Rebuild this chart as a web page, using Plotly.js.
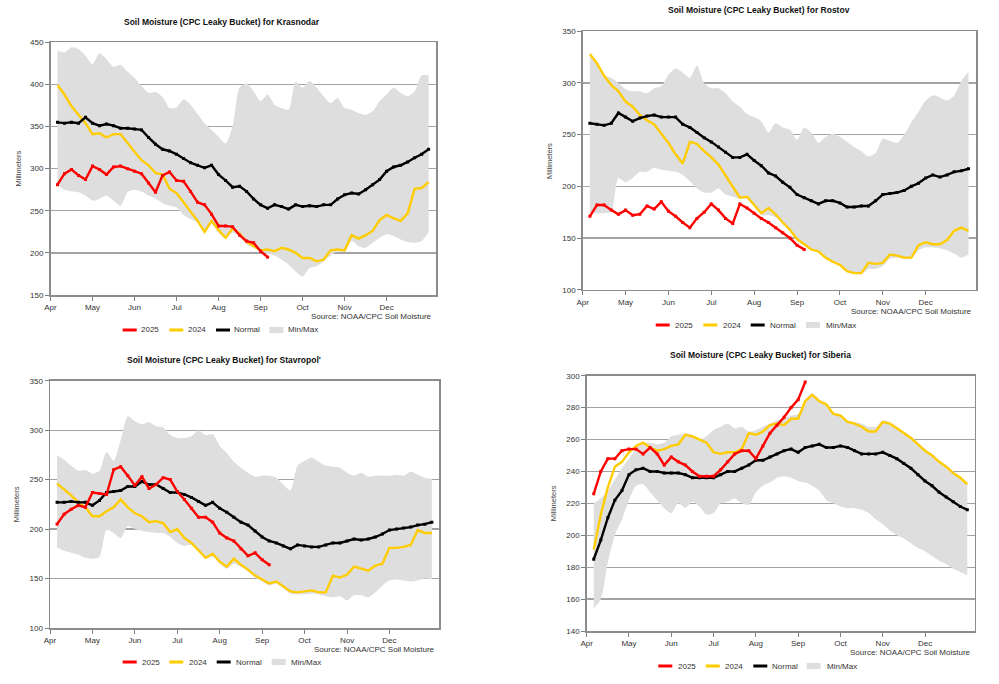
<!DOCTYPE html>
<html><head><meta charset="utf-8">
<script src="https://cdn.plot.ly/plotly-3.0.1.min.js"></script>
<style>html,body{margin:0;padding:0;background:#fff;}#chart{width:999px;height:684px;}</style>
</head><body><div id="chart"></div>
<script>
// x positions: pentad number from April 1 (6 per month)
const pentads = Array.from({length: 54}, (_, i) => i + 1);
const monthTicks = [0, 6, 12, 18, 24, 30, 36, 42, 48];
const monthLabels = ['Apr','May','Jun','Jul','Aug','Sep','Oct','Nov','Dec'];
const seriesNames = ['2025', '2024', 'Normal', 'Min/Max'];

// Krasnodar
const krasnodar2025 = [281,294,299,292,287,303,299,293,302,303,300,297,294,283,272,292,296,286,285,273,260,257,246,232,232,231,221,214,212,202,195];
const krasnodar2024 = [399,388,374,364,354,341,342,337,341,341,330,320,310,304,295,293,276,271,260,249,238,225,238,227,218,229,223,213,208,203,204,202,206,204,200,194,194,190,192,203,204,203,221,217,221,226,239,245,241,238,247,276,277,284];
const krasnodarNormal = [355,354,355,354,361,354,351,353,351,348,348,347,346,337,329,323,321,317,312,307,304,301,304,293,286,278,279,273,264,257,253,257,255,252,257,255,256,255,257,257,264,269,271,270,275,281,287,297,302,304,308,313,317,323];
const krasnodarMax = [440,438,444,442,434,424,437,430,421,423,415,408,398,390,391,385,372,373,382,376,365,354,346,338,330,350,396,401,392,380,388,376,372,370,403,396,404,396,386,378,384,372,370,366,364,368,380,388,396,390,386,392,411,411];
const krasnodarMin = [281,275,273,272,268,262,264,268,262,256,272,275,273,268,265,259,256,254,245,240,236,224,234,224,217,224,220,210,206,202,199,197,192,186,178,172,182,184,190,197,202,201,214,208,206,212,218,222,220,216,213,212,214,225];

// Rostov
const rostov2025 = [171,182,182,177,173,177,172,173,181,178,185,176,171,165,160,169,175,183,177,169,164,183,179,174,169,165,160,155,150,143,139];
const rostov2024 = [328,319,307,298,292,282,277,269,264,260,251,242,231,222,243,241,234,228,221,210,199,189,190,182,174,179,173,165,158,149,144,139,137,131,127,124,118,116,116,126,125,126,134,133,131,131,143,146,144,144,148,157,160,157];
const rostovNormal = [261,260,259,261,271,267,263,266,268,269,267,267,267,260,257,252,247,243,238,233,228,228,231,225,220,213,210,204,199,192,189,186,183,186,186,184,180,180,181,181,186,192,193,194,196,200,203,208,211,209,211,214,215,217];
const rostovMax = [326,318,308,305,300,294,292,292,290,295,297,308,314,310,305,317,300,295,295,290,282,277,270,267,263,252,261,257,255,245,257,252,242,248,251,248,243,238,234,229,232,246,244,242,250,262,272,283,288,286,283,288,302,311];
const rostovMin = [175,174,174,176,208,204,208,214,214,218,216,215,214,211,205,198,194,194,198,192,190,188,188,181,172,172,170,164,157,148,143,138,136,131,127,123,118,116,115,120,120,123,130,131,130,130,138,141,141,140,138,135,131,134];

// Stavropol'
const stavropol2025 = [205,215,220,224,222,237,236,235,260,263,254,244,253,241,245,252,250,238,230,221,212,212,207,196,191,188,180,173,176,169,164];
const stavropol2024 = [246,240,234,227,222,213,213,218,222,230,222,216,213,207,208,206,197,200,191,186,179,171,175,167,162,170,164,159,153,149,145,147,142,137,136,137,138,136,136,153,151,154,162,160,158,163,165,181,181,182,184,199,196,196];
const stavropolNormal = [227,227,228,227,227,224,229,237,238,239,243,243,248,245,245,241,237,237,235,232,228,224,227,221,217,212,207,204,198,192,188,186,183,180,184,183,182,182,184,186,186,188,190,189,190,192,195,199,200,201,202,204,205,207];
const stavropolMax = [275,270,264,259,260,256,259,278,269,290,314,309,306,308,304,303,295,292,292,294,300,295,296,284,277,268,262,257,253,254,254,252,245,239,264,269,272,268,264,263,262,257,254,257,253,254,254,254,255,254,258,255,252,251];
const stavropolMin = [181,178,176,174,171,170,172,199,196,191,203,200,198,197,196,196,192,186,183,184,178,170,172,165,160,165,162,157,151,147,143,145,140,135,134,134,135,134,132,131,132,128,133,133,131,136,143,148,149,148,147,148,150,149];

// Siberia
const siberia2025 = [226,240,248,248,253,254,254,251,255,251,244,249,246,244,240,237,237,237,241,246,251,253,253,248,256,264,269,274,280,285,296];
const siberia2024 = [191,213,230,243,246,252,256,258,255,253,254,256,257,263,262,260,258,252,251,252,252,254,264,263,265,269,270,269,273,273,284,288,284,282,276,275,271,270,268,265,265,271,270,267,264,261,257,253,250,246,243,239,236,232];
const siberiaNormal = [185,197,211,222,228,238,241,242,240,240,239,239,239,238,236,236,236,236,238,240,240,242,244,247,247,249,251,253,254,252,255,256,257,255,255,256,255,253,251,251,251,252,250,248,245,242,238,234,231,227,224,221,218,216];
const siberiaMax = [220,223,228,235,242,248,254,258,258,257,258,262,263,264,263,260,262,266,268,270,267,268,265,266,268,270,272,273,275,276,285,289,285,283,277,276,272,271,270,268,268,272,271,268,265,262,258,254,251,247,244,240,237,233];
const siberiaMin = [154,160,183,200,210,222,231,232,227,222,217,214,220,217,221,218,213,214,220,221,223,220,219,227,231,233,236,237,236,234,233,231,228,222,220,218,217,217,216,214,210,207,203,200,198,195,192,190,187,184,182,179,177,175];

const W = 999, H = 684;
const px = v => v / W;
const py = v => 1 - v / H;
const FONT = 'Liberation Sans, Arial, sans-serif';
const C_RED = '#ff0000', C_YEL = '#ffcc00', C_BLK = '#000000', C_BAND = '#dedede';

const panels = [
  {name: 'Krasnodar', d: [krasnodar2025, krasnodar2024, krasnodarNormal, krasnodarMax, krasnodarMin],
   box: [50.5, 436, 42.3, 295], yr: [150, 450], dt: 50,
   title: [222, 21.5], ytitle: [17.5, 169], src: [433.5, 316.7],
   leg: {y: 330, sw: [122.7, 169.3, 216, 269.3], tx: [140, 186.7, 233.3, 287.3]}},
  {name: 'Rostov', d: [rostov2025, rostov2024, rostovNormal, rostovMax, rostovMin],
   box: [582.7, 976, 31.3, 289.7], yr: [100, 350], dt: 50,
   title: [758.7, 10.3], ytitle: [549, 161], src: [973.7, 311.7],
   leg: {y: 325, sw: [655.7, 703.3, 750.7, 806], tx: [674, 721.7, 769, 825]}},
  {name: "Stavropol'", d: [stavropol2025, stavropol2024, stavropolNormal, stavropolMax, stavropolMin],
   box: [50, 439.3, 380.7, 628], yr: [100, 350], dt: 50,
   title: [223.5, 360.3], ytitle: [16.3, 504], src: [437.3, 649.3],
   leg: {y: 662, sw: [122.7, 169.3, 216.7, 271.7], tx: [140.7, 187.7, 235, 290]}},
  {name: 'Siberia', d: [siberia2025, siberia2024, siberiaNormal, siberiaMax, siberiaMin],
   box: [586.7, 974.7, 375.7, 631], yr: [140, 300], dt: 20,
   title: [760, 355], ytitle: [553, 503.3], src: [972.7, 652.7],
   leg: {y: 666, sw: [658.3, 705.7, 753.3, 806.7], tx: [676.7, 724, 770.7, 825.7]}}
];

const data = [];
const layout = {
  width: W, height: H, margin: {l: 0, r: 0, t: 0, b: 0},
  paper_bgcolor: '#ffffff', plot_bgcolor: '#ffffff',
  showlegend: false, font: {family: FONT, size: 8, color: '#333333'},
  annotations: [], shapes: []
};

panels.forEach((p, i) => {
  const k = i === 0 ? '' : String(i + 1);
  const xa = 'x' + k, ya = 'y' + k;
  const [r25, r24, rn, rmax, rmin] = p.d;
  const xs = pentads;
  data.push({x: xs, y: rmin, xaxis: xa, yaxis: ya, mode: 'lines', line: {width: 0, shape: 'spline', smoothing: 0.7}, hoverinfo: 'skip'});
  data.push({x: xs, y: rmax, xaxis: xa, yaxis: ya, mode: 'lines', line: {width: 0, shape: 'spline', smoothing: 0.7}, fill: 'tonexty', fillcolor: C_BAND, hoverinfo: 'skip', name: seriesNames[3]});
  data.push({x: xs.slice(0, r24.length), y: r24, xaxis: xa, yaxis: ya, mode: 'lines', line: {color: C_YEL, width: 2.4}, name: seriesNames[1]});
  data.push({x: xs.slice(0, rn.length), y: rn, xaxis: xa, yaxis: ya, mode: 'lines+markers', line: {color: C_BLK, width: 2.4}, marker: {color: C_BLK, size: 3, symbol: 'square'}, name: seriesNames[2]});
  data.push({x: xs.slice(0, r25.length), y: r25, xaxis: xa, yaxis: ya, mode: 'lines+markers', line: {color: C_RED, width: 2.4}, marker: {color: C_RED, size: 3, symbol: 'square'}, name: seriesNames[0]});

  const [x0, x1, y0, y1] = p.box;
  layout['xaxis' + k] = {
    domain: [px(x0), px(x1)], anchor: ya, range: [0, 55.05],
    tickmode: 'array', tickvals: monthTicks, ticktext: monthLabels,
    ticks: 'outside', ticklen: 4, tickwidth: 1, tickcolor: '#808080',
    showline: true, linecolor: '#8c8c8c', linewidth: 1.5, mirror: true,
    showgrid: false, zeroline: false,
    tickfont: {family: FONT, size: 8, color: '#333333'}
  };
  layout['yaxis' + k] = {
    domain: [py(y1), py(y0)], anchor: xa, range: p.yr,
    tick0: p.yr[0], dtick: p.dt,
    ticks: 'outside', ticklen: 4, tickwidth: 1, tickcolor: '#808080',
    showline: true, linecolor: '#8c8c8c', linewidth: 1.5, mirror: true,
    showgrid: true, gridcolor: '#a3a3a3', gridwidth: 1.3, zeroline: false,
    tickfont: {family: FONT, size: 8, color: '#333333'}
  };

  layout.annotations.push({
    text: '<b>Soil Moisture (CPC Leaky Bucket) for ' + p.name + '</b>',
    xref: 'paper', yref: 'paper', x: px(p.title[0]), y: py(p.title[1]),
    xanchor: 'center', yanchor: 'middle', showarrow: false,
    font: {family: FONT, size: 8.5, color: '#111111'}
  });
  layout.annotations.push({
    text: 'Millimeters', textangle: -90,
    xref: 'paper', yref: 'paper', x: px(p.ytitle[0]), y: py(p.ytitle[1]),
    xanchor: 'center', yanchor: 'middle', showarrow: false,
    font: {family: FONT, size: 7.5, color: '#444444'}
  });
  layout.annotations.push({
    text: 'Source: NOAA/CPC Soil Moisture',
    xref: 'paper', yref: 'paper', x: px(p.src[0]), y: py(p.src[1]),
    xanchor: 'right', yanchor: 'middle', showarrow: false,
    font: {family: FONT, size: 8, color: '#333333'}
  });

  const colors = [C_RED, C_YEL, C_BLK];
  p.leg.sw.forEach((sx, j) => {
    if (j < 3) {
      layout.shapes.push({type: 'line', xref: 'paper', yref: 'paper',
        x0: px(sx), x1: px(sx + 14), y0: py(p.leg.y), y1: py(p.leg.y),
        line: {color: colors[j], width: 3}});
    } else {
      layout.shapes.push({type: 'rect', xref: 'paper', yref: 'paper',
        x0: px(sx), x1: px(sx + 14), y0: py(p.leg.y + 3), y1: py(p.leg.y - 3),
        fillcolor: C_BAND, line: {width: 0}});
    }
    layout.annotations.push({
      text: seriesNames[j], xref: 'paper', yref: 'paper',
      x: px(p.leg.tx[j] - 1), y: py(p.leg.y), xanchor: 'left', yanchor: 'middle',
      showarrow: false, font: {family: FONT, size: 8, color: '#333333'}
    });
  });
});

Plotly.newPlot('chart', data, layout, {staticPlot: true, displayModeBar: false});
</script>
</body></html>
